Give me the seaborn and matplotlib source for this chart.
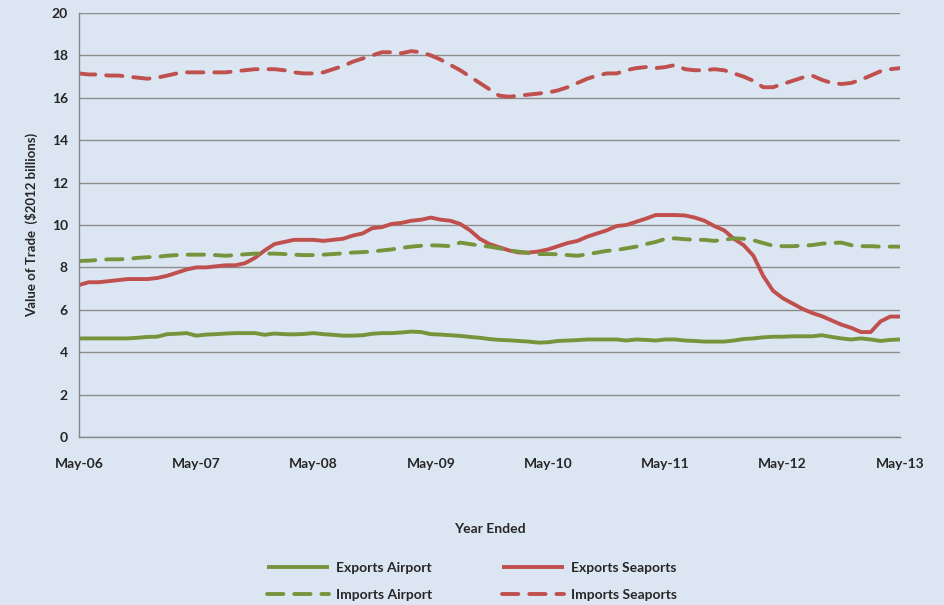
import numpy as np
import pandas as pd
import matplotlib
matplotlib.use("Agg")
import matplotlib.pyplot as plt
import seaborn as sns

# monthly values, May-06 .. May-13 (85 months), $2012 billions
exports_airport = [
    4.65, 4.65, 4.65, 4.65, 4.65, 4.65, 4.68, 4.72, 4.73, 4.85, 4.87, 4.90,
    4.78, 4.83, 4.85, 4.88, 4.90, 4.90, 4.90, 4.82, 4.88, 4.85, 4.84, 4.86,
    4.90, 4.85, 4.82, 4.78, 4.78, 4.80, 4.87, 4.90, 4.90, 4.93, 4.97, 4.95,
    4.85, 4.83, 4.80, 4.77, 4.72, 4.68, 4.62, 4.58, 4.56, 4.53, 4.50, 4.45,
    4.47, 4.53, 4.55, 4.57, 4.60, 4.60, 4.60, 4.60, 4.55, 4.60, 4.58, 4.55,
    4.60, 4.60, 4.55, 4.53, 4.50, 4.50, 4.50, 4.55, 4.62, 4.65, 4.70, 4.73,
    4.73, 4.75, 4.75, 4.75, 4.80, 4.72, 4.65, 4.60, 4.65, 4.60, 4.53, 4.58,
    4.60,
]
exports_seaports = [
    7.17, 7.30, 7.30, 7.35, 7.40, 7.45, 7.45, 7.45, 7.50, 7.60, 7.75, 7.90,
    8.00, 8.00, 8.05, 8.10, 8.10, 8.20, 8.45, 8.80, 9.10, 9.20, 9.30, 9.30,
    9.30, 9.25, 9.30, 9.35, 9.50, 9.60, 9.85, 9.90, 10.05, 10.10, 10.20, 10.25,
    10.35, 10.25, 10.20, 10.05, 9.75, 9.35, 9.10, 8.95, 8.80, 8.70, 8.70, 8.75,
    8.85, 9.00, 9.15, 9.25, 9.45, 9.60, 9.75, 9.95, 10.00, 10.15, 10.30, 10.47,
    10.47, 10.47, 10.45, 10.35, 10.20, 9.95, 9.75, 9.35, 9.05, 8.55, 7.60, 6.90,
    6.55, 6.30, 6.05, 5.85, 5.70, 5.50, 5.30, 5.15, 4.95, 4.95, 5.45, 5.68,
    5.68,
]
imports_airport = [
    8.30, 8.32, 8.35, 8.38, 8.38, 8.40, 8.45, 8.48, 8.50, 8.55, 8.58, 8.60,
    8.60, 8.60, 8.58, 8.55, 8.58, 8.62, 8.65, 8.65, 8.65, 8.63, 8.60, 8.58,
    8.58, 8.60, 8.63, 8.66, 8.70, 8.72, 8.75, 8.80, 8.85, 8.92, 8.98, 9.02,
    9.04, 9.03, 9.00, 9.17, 9.10, 9.03, 8.98, 8.90, 8.80, 8.74, 8.68, 8.63,
    8.63, 8.62, 8.58, 8.55, 8.62, 8.70, 8.78, 8.82, 8.90, 8.98, 9.10, 9.20,
    9.35, 9.37, 9.33, 9.30, 9.30, 9.25, 9.30, 9.37, 9.35, 9.28, 9.15, 9.02,
    9.00, 9.00, 9.03, 9.05, 9.12, 9.15, 9.17, 9.05, 9.00, 9.00, 8.98, 8.98,
    8.98,
]
imports_seaports = [
    17.15, 17.10, 17.10, 17.05, 17.05, 17.00, 16.95, 16.90, 16.95, 17.05, 17.15, 17.20,
    17.20, 17.20, 17.20, 17.20, 17.25, 17.30, 17.35, 17.35, 17.35, 17.30, 17.20, 17.15,
    17.15, 17.20, 17.35, 17.50, 17.70, 17.85, 18.00, 18.15, 18.15, 18.10, 18.20, 18.15,
    18.00, 17.80, 17.55, 17.30, 17.00, 16.70, 16.40, 16.10, 16.05, 16.10, 16.15, 16.20,
    16.25, 16.35, 16.50, 16.70, 16.90, 17.05, 17.15, 17.15, 17.30, 17.40, 17.45, 17.40,
    17.45, 17.55, 17.35, 17.30, 17.30, 17.35, 17.30, 17.15, 17.00, 16.80, 16.50, 16.50,
    16.65, 16.80, 16.95, 17.05, 16.85, 16.70, 16.65, 16.70, 16.85, 17.05, 17.25, 17.35,
    17.40,
]
year_labels = ["May-06", "May-07", "May-08", "May-09", "May-10", "May-11", "May-12", "May-13"]

GREEN = "#77933C"
RED = "#C0504D"
BG = "#DCE6F2"

months = np.arange(len(exports_airport))
df = pd.DataFrame({
    "month": np.tile(months, 4),
    "value": exports_airport + exports_seaports + imports_airport + imports_seaports,
    "series": (["Exports Airport"] * len(months) + ["Exports Seaports"] * len(months)
               + ["Imports Airport"] * len(months) + ["Imports Seaports"] * len(months)),
})

sns.set_style("white")
plt.rcParams["font.family"] = ["Lato", "DejaVu Sans"]
plt.rcParams["font.weight"] = "bold"

fig = plt.figure(figsize=(9.44, 6.05), dpi=100, facecolor=BG)
ax = fig.add_axes([0.0837, 0.2777, 0.8697, 0.7008], facecolor=BG)

dash = (0, (4.2, 2.8))
styles = {
    "Exports Airport": (GREEN, "-"),
    "Exports Seaports": (RED, "-"),
    "Imports Airport": (GREEN, dash),
    "Imports Seaports": (RED, dash),
}
handles = {}
for name, (col, ls) in styles.items():
    sub = df[df["series"] == name]
    sns.lineplot(data=sub, x="month", y="value", ax=ax, color=col, lw=2.8,
                 linestyle=ls, label=name, legend=False)
    line = ax.lines[-1]
    line.set_dash_capstyle("round")
    line.set_solid_capstyle("butt")
    handles[name] = line

ax.set_xlim(0, months[-1])
ax.set_ylim(0, 20)
ax.set_yticks(np.arange(0, 21, 2))
ax.set_xticks(np.arange(0, len(months), 12))
ax.set_xticklabels(year_labels)
ax.yaxis.grid(True, color="#8C8C8C", lw=1)
ax.set_axisbelow(True)
for s in ["top", "right"]:
    ax.spines[s].set_visible(False)
for s in ["left", "bottom"]:
    ax.spines[s].set_color("#868686")
    ax.spines[s].set_linewidth(1)
ax.tick_params(axis="both", direction="out", length=4, color="#868686",
               labelsize=10, pad=11)
ax.tick_params(axis="y", pad=4)
for lab in ax.get_xticklabels() + ax.get_yticklabels():
    lab.set_fontweight("bold")

ax.set_xlabel("Year Ended", fontsize=10, fontweight="bold", labelpad=38)
ax.set_ylabel("Value of Trade  ($2012 billions)", fontsize=9.5, fontweight="bold", labelpad=10)

order = ["Exports Airport", "Imports Airport", "Exports Seaports", "Imports Seaports"]
leg = fig.legend([handles[n] for n in order], order, ncol=2, loc="center",
                 bbox_to_anchor=(0.5, 0.039), frameon=False, fontsize=10,
                 handlelength=4.5, columnspacing=5, labelspacing=1.1,
                 handletextpad=0.5)
for t in leg.get_texts():
    t.set_fontweight("bold")

fig.savefig("out.png", dpi=100, facecolor=BG)
